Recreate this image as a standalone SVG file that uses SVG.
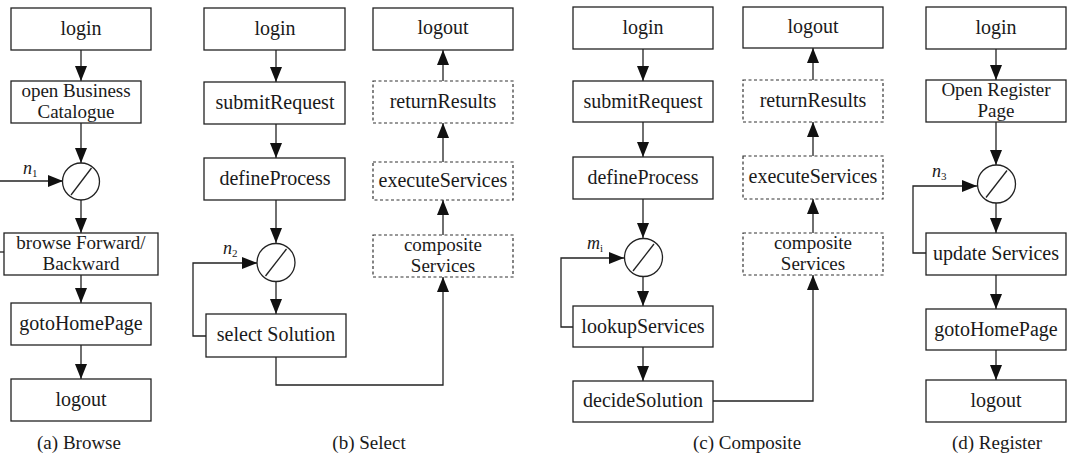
<svg xmlns="http://www.w3.org/2000/svg" width="1069" height="458" viewBox="0 0 1069 458" font-family="'Liberation Serif', 'DejaVu Serif', 'Times New Roman', Times, serif">
<style>
.box{fill:#fff;stroke:#222;stroke-width:1.3}
.dbox{fill:#fff;stroke:#333;stroke-width:1.2;stroke-dasharray:3,2.5}
text{font-family:'Liberation Serif','DejaVu Serif','Times New Roman',Times,serif}
.t{font-size:20px;fill:#1a1a1a;text-anchor:middle}
.t2{font-size:19px;fill:#1a1a1a;text-anchor:middle}
.cap{font-size:19px;fill:#1a1a1a;text-anchor:middle}
.lab{font-size:18px;font-style:italic;fill:#1a1a1a}
.sub{font-size:11px;fill:#1a1a1a}
.ln{fill:none;stroke:#222;stroke-width:1.3}
.ar{fill:none;stroke:#222;stroke-width:1.3;marker-end:url(#ah)}
.circ{fill:#fff;stroke:#222;stroke-width:1.3}
</style>
<defs>
<marker id="ah" markerUnits="userSpaceOnUse" markerWidth="15" markerHeight="12" refX="15" refY="6" orient="auto">
<path d="M0,0 L15,6 L0,12 z" fill="#111"/>
</marker>
</defs>

<g id="connectors">
<path class="ar" d="M81,50 V81"/>
<path class="ar" d="M81,123 V163"/>
<path class="ar" d="M0,181 H63"/>
<path class="ar" d="M81,200 V233"/>
<path class="ln" d="M4,252 H0"/>
<path class="ar" d="M81,275 V303"/>
<path class="ar" d="M81,345 V379"/>
<path class="ar" d="M276,50 V82"/>
<path class="ar" d="M276,124 V158"/>
<path class="ar" d="M276,200 V243"/>
<path class="ar" d="M206,336 H193 V263 H257"/>
<path class="ar" d="M276,282 V314"/>
<path class="ar" d="M276,357 V385 H443 V277"/>
<path class="ar" d="M443,235 V200"/>
<path class="ar" d="M443,162 V123"/>
<path class="ar" d="M443,81 V50"/>
<path class="ar" d="M643,49 V81"/>
<path class="ar" d="M643,122 V157"/>
<path class="ar" d="M643,199 V238"/>
<path class="ar" d="M573,327 H561 V258 H624"/>
<path class="ar" d="M643,277 V306"/>
<path class="ar" d="M643,347 V381"/>
<path class="ar" d="M713,401 H813 V275"/>
<path class="ar" d="M813,233 V199"/>
<path class="ar" d="M813,156 V122"/>
<path class="ar" d="M813,80 V48"/>
<path class="ar" d="M996,49 V80"/>
<path class="ar" d="M996,122 V165"/>
<path class="ar" d="M926,253 H913 V186 H977"/>
<path class="ar" d="M996,203 V233"/>
<path class="ar" d="M996,275 V309"/>
<path class="ar" d="M996,350 V380"/>
</g>

<g id="a_login"><rect class="box" x="11" y="8" width="140" height="42"/><text class="t" x="81" y="35">login</text></g>
<g id="a_open"><rect class="box" x="11" y="81" width="130" height="42"/><text class="t2" x="76" y="97">open Business</text><text class="t2" x="76" y="118">Catalogue</text></g>
<g id="a_gate"><circle class="circ" cx="81" cy="181.5" r="18.5"/><line class="ln" x1="71" y1="195" x2="91.5" y2="168"/><text class="lab" x="23" y="174">n</text><text class="sub" x="32" y="177">1</text></g>
<g id="a_browse"><rect class="box" x="4" y="233" width="154" height="42"/><text class="t2" x="81" y="249">browse Forward/</text><text class="t2" x="81" y="270">Backward</text></g>
<g id="a_home"><rect class="box" x="11" y="303" width="140" height="42"/><text class="t" x="81" y="330">gotoHomePage</text></g>
<g id="a_logout"><rect class="box" x="11" y="379" width="140" height="42"/><text class="t" x="81" y="406">logout</text></g>
<text class="cap" x="79" y="449">(a) Browse</text>

<g id="b_login"><rect class="box" x="204" y="8" width="141" height="42"/><text class="t" x="275" y="35">login</text></g>
<g id="b_submit"><rect class="box" x="204" y="82" width="141" height="42"/><text class="t" x="275" y="109">submitRequest</text></g>
<g id="b_define"><rect class="box" x="204" y="158" width="141" height="42"/><text class="t" x="275" y="185">defineProcess</text></g>
<g id="b_gate"><circle class="circ" cx="276" cy="262.5" r="19"/><line class="ln" x1="265.5" y1="276" x2="286.5" y2="249"/><text class="lab" x="223" y="254">n</text><text class="sub" x="232" y="257">2</text></g>
<g id="b_select"><rect class="box" x="206" y="314" width="140" height="43"/><text class="t" x="276" y="341">select Solution</text></g>
<g id="b_logout"><rect class="box" x="373" y="8" width="140" height="42"/><text class="t" x="443" y="34">logout</text></g>
<g id="b_return"><rect class="dbox" x="373" y="81" width="140" height="42"/><text class="t" x="443" y="108">returnResults</text></g>
<g id="b_execute"><rect class="dbox" x="373" y="162" width="140" height="38"/><text class="t" x="443" y="187">executeServices</text></g>
<g id="b_composite"><rect class="dbox" x="373" y="235" width="140" height="42"/><text class="t2" x="443" y="251">composite</text><text class="t2" x="443" y="272">Services</text></g>
<text class="cap" x="369" y="449">(b) Select</text>

<g id="c_login"><rect class="box" x="573" y="7" width="140" height="42"/><text class="t" x="643" y="34">login</text></g>
<g id="c_submit"><rect class="box" x="573" y="81" width="140" height="41"/><text class="t" x="643" y="108">submitRequest</text></g>
<g id="c_define"><rect class="box" x="573" y="157" width="140" height="42"/><text class="t" x="643" y="184">defineProcess</text></g>
<g id="c_gate"><circle class="circ" cx="643.5" cy="257.5" r="19"/><line class="ln" x1="633" y1="271" x2="654" y2="244"/><text class="lab" x="587" y="249">m</text><text class="sub" x="600" y="252">i</text></g>
<g id="c_lookup"><rect class="box" x="573" y="306" width="140" height="41"/><text class="t" x="643" y="333">lookupServices</text></g>
<g id="c_decide"><rect class="box" x="573" y="381" width="140" height="41"/><text class="t" x="643" y="407">decideSolution</text></g>
<g id="c_logout"><rect class="box" x="743" y="7" width="140" height="41"/><text class="t" x="813" y="33">logout</text></g>
<g id="c_return"><rect class="dbox" x="743" y="80" width="140" height="42"/><text class="t" x="813" y="107">returnResults</text></g>
<g id="c_execute"><rect class="dbox" x="743" y="156" width="140" height="43"/><text class="t" x="813" y="183">executeServices</text></g>
<g id="c_composite"><rect class="dbox" x="743" y="233" width="140" height="42"/><text class="t2" x="813" y="249">composite</text><text class="t2" x="813" y="270">Services</text></g>
<text class="cap" x="747" y="449">(c) Composite</text>

<g id="d_login"><rect class="box" x="926" y="7" width="140" height="42"/><text class="t" x="996" y="34">login</text></g>
<g id="d_open"><rect class="box" x="926" y="80" width="140" height="42"/><text class="t2" x="996" y="96">Open Register</text><text class="t2" x="996" y="117">Page</text></g>
<g id="d_gate"><circle class="circ" cx="996.5" cy="184" r="19"/><line class="ln" x1="986" y1="197.5" x2="1007" y2="170.5"/><text class="lab" x="932" y="177">n</text><text class="sub" x="941" y="180">3</text></g>
<g id="d_update"><rect class="box" x="926" y="233" width="140" height="42"/><text class="t" x="996" y="260">update Services</text></g>
<g id="d_home"><rect class="box" x="926" y="309" width="140" height="41"/><text class="t" x="996" y="336">gotoHomePage</text></g>
<g id="d_logout"><rect class="box" x="926" y="380" width="140" height="42"/><text class="t" x="996" y="407">logout</text></g>
<text class="cap" x="997" y="449">(d) Register</text>
</svg>
